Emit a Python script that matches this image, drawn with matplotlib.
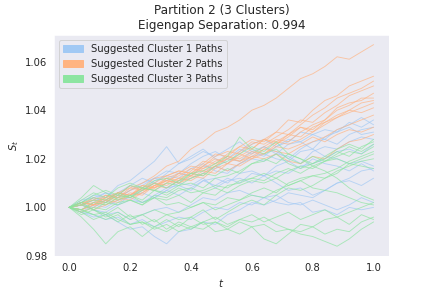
import numpy as np
import matplotlib
matplotlib.use('Agg')
import matplotlib.pyplot as plt
import matplotlib.patches as mpatches
import seaborn as sns

''' paths read off the picture, in thousandths above S_0 = 1 '''

n_steps = 26  # 0.00, 0.04, ..., 1.00

cluster1_paths = [
    [0, 2, 5, 4, 9, 11, 15, 19, 25, 18, 20, 23, 21, 24, 27, 23, 21, 25, 28, 27, 30, 32, 31, 35, 33, 36],
    [0, 1, 4, 6, 5, 9, 12, 10, 14, 18, 21, 24, 20, 18, 23, 26, 28, 25, 27, 31, 30, 28, 32, 34, 37, 34],
    [0, -1, 2, 5, 4, 7, 9, 12, 11, 14, 13, 17, 16, 20, 19, 23, 25, 22, 26, 27, 24, 29, 31, 33, 30, 31],
    [0, 1, 0, 3, 6, 5, 7, 10, 8, 11, 12, 14, 17, 15, 18, 20, 19, 22, 21, 18, 23, 25, 24, 27, 29, 28],
    [0, 3, 4, 2, 6, 9, 7, 11, 13, 12, 16, 18, 15, 14, 18, 21, 22, 20, 19, 23, 24, 21, 20, 18, 19, 17],
    [0, -2, 1, 0, 3, 4, 2, 5, 8, 9, 7, 11, 12, 10, 14, 15, 13, 17, 19, 16, 20, 18, 17, 15, 18, 15],
    [0, -2, -3, -5, -4, -7, -5, -8, -6, -4, -5, -2, 0, -1, 2, 1, 4, 5, 2, 1, 3, 1, -1, 1, 4, 2],
    [0, 2, -1, -3, -2, -5, -3, -1, 0, -2, 1, 4, 3, 6, 7, 5, 4, 2, 1, 2, -2, -1, -3, 0, -1, 0],
    [0, -2, -4, -3, -6, -9, -8, -12, -15, -10, -9, -6, -7, -3, -1, 2, 1, 3, 6, 5, 4, 7, 10, 11, 9, 12],
    [0, 1, -1, -2, 1, 3, 2, 4, 7, 5, 8, 11, 9, 12, 10, 14, 13, 10, 7, 8, 5, 7, 10, 12, 15, 16],
    [0, 2, 1, 3, 1, 5, 6, 4, 7, 10, 9, 12, 8, 11, 12, 10, 13, 15, 14, 17, 18, 20, 23, 24, 22, 26],
    [0, 1, 3, 6, 4, 7, 10, 12, 15, 14, 18, 21, 23, 20, 24, 22, 25, 23, 20, 24, 27, 28, 26, 30, 32, 33],
]

cluster2_paths = [
    [0, 2, 1, 5, 4, 8, 10, 13, 17, 19, 24, 27, 31, 33, 36, 40, 42, 45, 49, 53, 55, 58, 62, 61, 64, 67],
    [0, 1, 4, 3, 5, 9, 7, 10, 13, 15, 14, 18, 22, 21, 25, 28, 27, 31, 36, 35, 40, 44, 46, 50, 52, 54],
    [0, -1, 1, 4, 6, 5, 9, 8, 10, 14, 17, 16, 18, 22, 25, 24, 28, 31, 30, 34, 38, 41, 45, 47, 49, 52],
    [0, 2, 3, 2, 6, 8, 7, 9, 12, 11, 15, 19, 18, 20, 23, 27, 26, 29, 32, 36, 35, 39, 42, 46, 48, 50],
    [0, -2, 0, 3, 2, 5, 8, 10, 9, 12, 14, 13, 17, 21, 19, 22, 25, 28, 27, 31, 34, 36, 41, 43, 44, 47],
    [0, 1, -1, 1, 4, 3, 6, 9, 11, 10, 13, 17, 20, 18, 21, 24, 28, 26, 29, 33, 32, 36, 40, 42, 45, 45],
    [0, 2, 1, 3, 6, 4, 7, 8, 12, 14, 13, 16, 19, 21, 20, 23, 22, 26, 30, 29, 33, 35, 38, 40, 43, 44],
    [0, -1, 2, 1, 3, 6, 5, 9, 11, 10, 12, 15, 14, 18, 22, 20, 24, 27, 26, 28, 31, 35, 37, 39, 41, 43],
    [0, 1, 3, 5, 4, 7, 9, 8, 11, 13, 16, 15, 17, 20, 19, 21, 24, 23, 22, 25, 27, 29, 32, 34, 36, 38],
    [0, 2, 1, 4, 3, 5, 8, 7, 10, 12, 11, 14, 17, 15, 18, 21, 20, 22, 19, 18, 21, 20, 24, 27, 28, 30],
    [0, -1, 1, 2, 5, 4, 6, 9, 8, 11, 13, 12, 16, 18, 17, 20, 22, 25, 24, 26, 29, 27, 30, 32, 31, 33],
    [0, 1, 2, 4, 6, 5, 8, 12, 13, 15, 14, 17, 21, 23, 22, 26, 28, 27, 30, 33, 31, 34, 37, 40, 39, 41],
]

cluster3_paths = [
    [0, -4, -9, -15, -10, -8, -12, -8, -5, -8, -4, -1, -5, -2, 1, 3, 1, 5, 8, 7, 9, 12, 14, 18, 20, 22],
    [0, -2, -5, -3, -6, -3, -7, -5, -9, -6, -8, -6, -10, -9, -11, -8, -13, -15, -11, -7, -8, -5, -4, -7, -3, -5],
    [0, 2, -1, -3, 0, -4, -3, -6, -3, -5, -4, -7, -6, -9, -6, -8, -7, -10, -9, -11, -12, -14, -16, -13, -9, -6],
    [0, -1, -3, -5, -3, -7, -6, -9, -7, -10, -8, -9, -6, -8, -5, -6, -4, -7, -9, -10, -8, -11, -9, -10, -6, -4],
    [0, 2, 4, 3, 6, 4, 8, 7, 10, 9, 12, 14, 13, 16, 14, 18, 20, 18, 22, 20, 17, 15, 12, 8, 5, 3],
    [0, 1, -1, 2, 1, 3, 1, 4, 3, 5, 2, 6, 8, 6, 9, 11, 10, 12, 9, 11, 8, 7, 6, 4, 2, 1],
    [0, 2, 5, 7, 5, 9, 8, 11, 12, 10, 14, 13, 17, 19, 22, 25, 23, 27, 22, 20, 18, 21, 24, 26, 24, 28],
    [0, -1, 2, 1, 4, 5, 3, 7, 6, 9, 10, 8, 12, 13, 15, 18, 19, 22, 18, 16, 18, 20, 23, 21, 25, 27],
    [0, 1, 3, 2, 5, 4, 7, 10, 8, 11, 14, 15, 18, 21, 29, 24, 22, 24, 20, 18, 21, 19, 22, 25, 23, 26],
    [0, -2, 0, -1, 2, 3, 1, 5, 4, 7, 8, 6, 5, 9, 10, 12, 11, 14, 16, 14, 17, 19, 21, 23, 22, 25],
    [0, 3, 6, 4, 8, 10, 8, 7, 5, 8, 6, 7, 9, 8, 11, 12, 14, 12, 15, 17, 16, 19, 20, 18, 17, 16],
    [0, -3, -1, -4, -2, -5, -3, -1, -3, -2, 0, 2, 1, 4, 3, 6, 8, 6, 10, 12, 13, 14, 16, 19, 21, 23],
    [0, 4, 9, 6, 3, 5, 2, 4, 1, 2, 0, 2, -1, 1, 3, 5, 4, 7, 9, 11, 13, 12, 15, 17, 19, 20],
    [0, -1, -3, -2, -5, -7, -6, -8, -10, -7, -9, -6, -4, -7, -5, -3, -6, -4, -2, -5, -3, -1, -4, -2, 0, 2],
]

cluster_labels = ['Suggested Cluster 1 Paths', 'Suggested Cluster 2 Paths', 'Suggested Cluster 3 Paths']
title_text = 'Partition 2 (3 Clusters)\nEigengap Separation: 0.994'

sns.set_style('dark')
colors = sns.color_palette('pastel')

t = np.linspace(0, 1, n_steps)

fig, ax = plt.subplots(figsize=(6, 4), dpi=72)

handles = []
for k, paths in enumerate([cluster1_paths, cluster2_paths, cluster3_paths]):
    for p in paths:
        ax.plot(t, 1 + np.array(p) / 1000, color=colors[k], alpha=0.7, linewidth=0.9)
    handles.append(mpatches.Patch(color=colors[k], label=cluster_labels[k]))

ax.legend(handles=handles, loc='upper left', fontsize=10)
ax.set_title(title_text, fontsize=12)
ax.set_xlabel('$t$')
ax.set_ylabel('$S_t$')
ax.set_xticks([0.0, 0.2, 0.4, 0.6, 0.8, 1.0])
ax.set_yticks([0.98, 1.00, 1.02, 1.04, 1.06])
ax.tick_params(labelsize=10)

plt.savefig('out.png', dpi=72)
